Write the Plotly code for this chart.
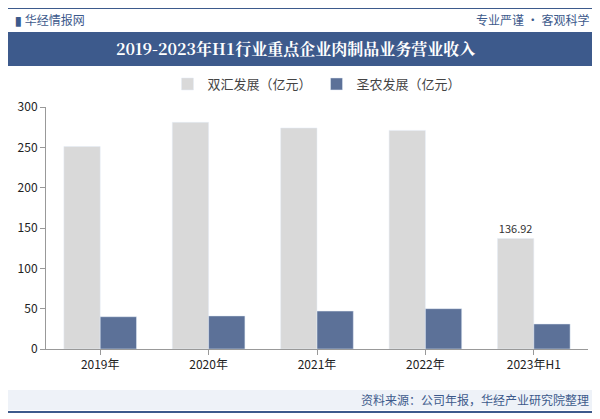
import plotly.graph_objects as go

years = ["2019年", "2020年", "2021年", "2022年", "2023年H1"]
shuanghui = [251, 281, 274, 271, 136.92]
shengnong = [40, 41, 47, 50, 31]
labels_sh = ["", "", "", "", "136.92"]

fig = go.Figure()
fig.add_trace(go.Bar(name="双汇发展（亿元）", x=years, y=shuanghui, marker_color="#D9D9D9",
                     text=labels_sh, textposition="outside", textfont=dict(size=11, color="#333")))
fig.add_trace(go.Bar(name="圣农发展（亿元）", x=years, y=shengnong, marker_color="#5C7198"))

# the page body adds an 8px margin, so the figure is 8px smaller than the window
L, R = -0.076, 1.013
fig.update_layout(
    width=592, height=411,
    margin=dict(l=38, r=12, t=99, b=70, autoexpand=False),
    paper_bgcolor="white", plot_bgcolor="white",
    font=dict(family="Noto Sans CJK SC", size=12, color="#333"),
    barmode="group", bargap=0.33, bargroupgap=0,
    legend=dict(orientation="h", x=0.5, xanchor="center", y=1.095, yanchor="middle",
                font=dict(size=13, color="#444"), bgcolor="rgba(0,0,0,0)"),
    xaxis=dict(showline=True, linecolor="#999", ticks="outside", tickcolor="#999",
               tickfont=dict(size=12, color="#222")),
    yaxis=dict(range=[0, 300], dtick=50, showgrid=False, showline=True, linecolor="#999",
               ticks="outside", tickcolor="#999", tickfont=dict(size=12, color="#222")),
    shapes=[
        dict(type="line", xref="paper", yref="paper", x0=L, x1=R, y0=1.409, y1=1.409,
             line=dict(color="#3D5A8C", width=2)),
        dict(type="rect", xref="paper", yref="paper", x0=L, x1=R, y0=1.169, y1=1.31,
             fillcolor="#3D5A8C", line_width=0, layer="below"),
        dict(type="rect", xref="paper", yref="paper", x0=L, x1=R, y0=-0.169, y1=-0.252,
             fillcolor="#EEF2F8", line_width=0, layer="below"),
        dict(type="line", xref="paper", yref="paper", x0=L, x1=R, y0=-0.26, y1=-0.26,
             line=dict(color="#3D5A8C", width=2)),
    ],
    annotations=[
        dict(text="<b>▮</b> 华经情报网", xref="paper", yref="paper", x=-0.06, y=1.36,
             xanchor="left", yanchor="middle", showarrow=False, font=dict(size=12, color="#3D5A8C")),
        dict(text="专业严谨 • 客观科学", xref="paper", yref="paper", x=1.005, y=1.36,
             xanchor="right", yanchor="middle", showarrow=False, font=dict(size=12, color="#3D5A8C")),
        dict(text="<b>2019-2023年H1行业重点企业肉制品业务营业收入</b>", xref="paper", yref="paper",
             x=0.46, y=1.24, xanchor="center", yanchor="middle", showarrow=False,
             font=dict(size=16, color="white", family="Noto Serif CJK SC, Noto Sans CJK SC")),
        dict(text="资料来源：公司年报，华经产业研究院整理", xref="paper", yref="paper", x=1.005, y=-0.21,
             xanchor="right", yanchor="middle", showarrow=False, font=dict(size=12, color="#3D5A8C")),
    ],
)

fig.write_html("out.html")
